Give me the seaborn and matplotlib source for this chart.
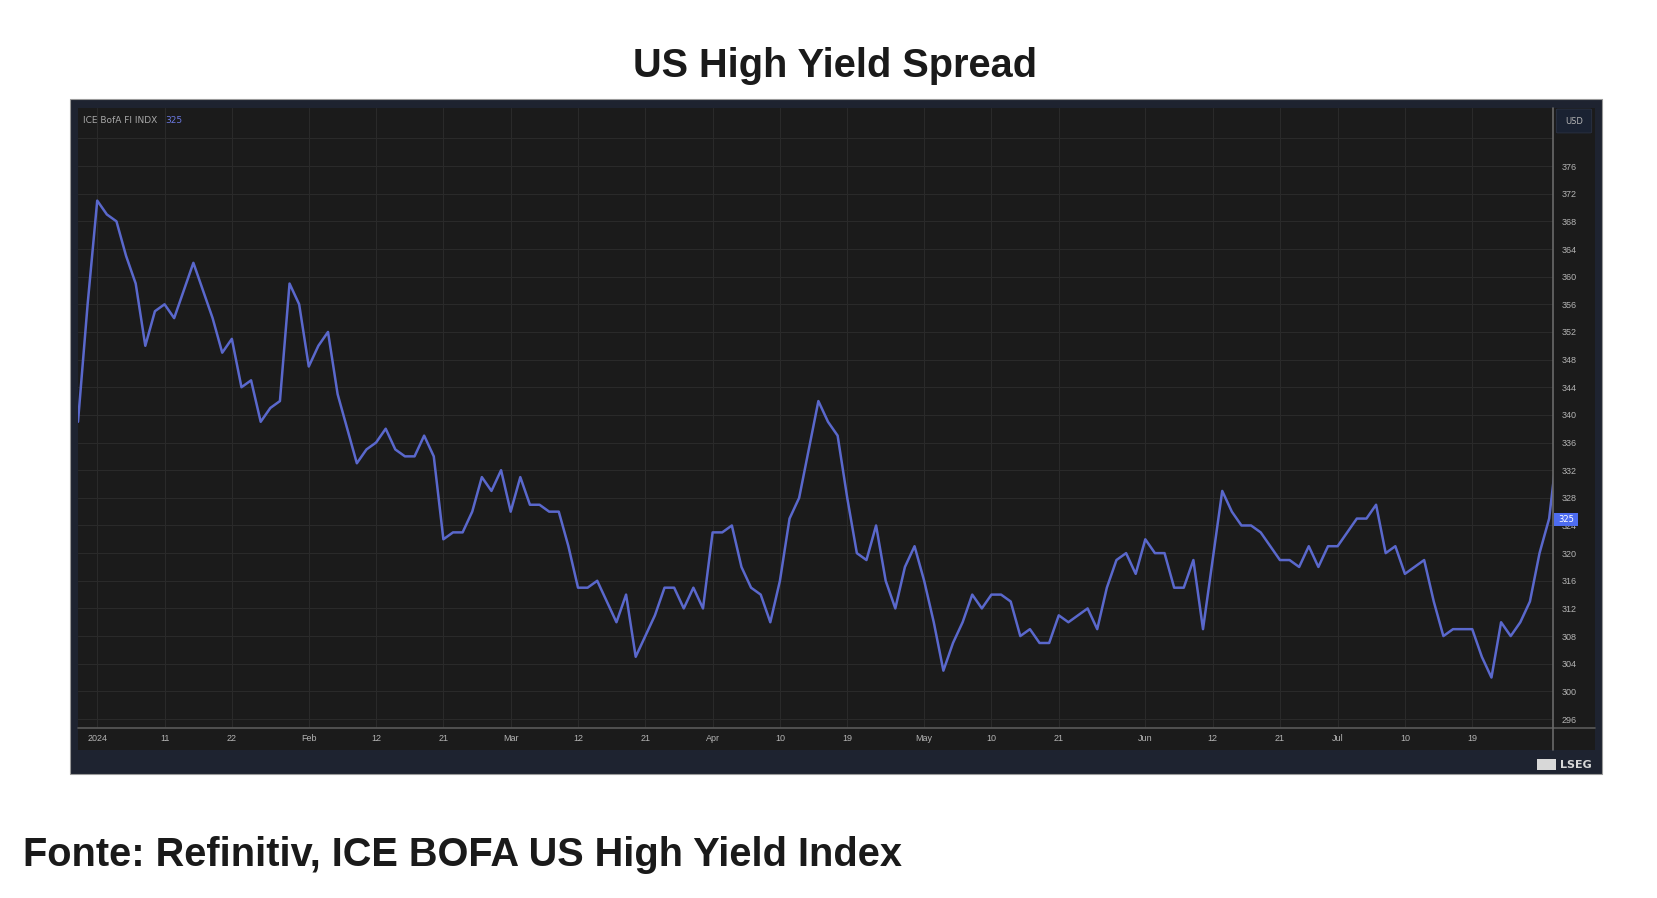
import numpy as np
import pandas as pd
import seaborn as sns
import matplotlib.pyplot as plt
from matplotlib.patches import Rectangle, FancyBboxPatch
from matplotlib.lines import Line2D

# ICE BofA US High Yield spread (bp), one value per business day from 2023-12-29
spread = [
    339, 356, 371, 369, 368, 363, 359, 350, 355, 356,
    354, 358, 362, 358, 354, 349, 351, 344, 345, 339,
    341, 342, 359, 356, 347, 350, 352, 343, 338, 333,
    335, 336, 338, 335, 334, 334, 337, 334, 322, 323,
    323, 326, 331, 329, 332, 326, 331, 327, 327, 326,
    326, 321, 315, 315, 316, 313, 310, 314, 305, 308,
    311, 315, 315, 312, 315, 312, 323, 323, 324, 318,
    315, 314, 310, 316, 325, 328, 335, 342, 339, 337,
    328, 320, 319, 324, 316, 312, 318, 321, 316, 310,
    303, 307, 310, 314, 312, 314, 314, 313, 308, 309,
    307, 307, 311, 310, 311, 312, 309, 315, 319, 320,
    317, 322, 320, 320, 315, 315, 319, 309, 319, 329,
    326, 324, 324, 323, 321, 319, 319, 318, 321, 318,
    321, 321, 323, 325, 325, 327, 320, 321, 317, 318,
    319, 313, 308, 309, 309, 309, 305, 302, 310, 308,
    310, 313, 320, 325, 337,
]
dates = pd.bdate_range("2023-12-29", periods=len(spread))

tick_dates = ["2024-01-02", "2024-01-11", "2024-01-22", "2024-02-01", "2024-02-12",
              "2024-02-21", "2024-03-01", "2024-03-12", "2024-03-21", "2024-04-01",
              "2024-04-10", "2024-04-19", "2024-05-01", "2024-05-10", "2024-05-21",
              "2024-06-03", "2024-06-12", "2024-06-21", "2024-07-01", "2024-07-10",
              "2024-07-19"]
tick_labels = ["2024", "11", "22", "Feb", "12", "21", "Mar", "12", "21", "Apr",
               "10", "19", "May", "10", "21", "Jun", "12", "21", "Jul", "10", "19"]
y_ticks = list(range(296, 377, 4))
last_value = 325

df = pd.DataFrame({"date": dates, "spread": spread})
df["pos"] = np.arange(len(df))

sns.set_theme(style="dark")
plt.rcParams["font.family"] = ["Liberation Sans", "DejaVu Sans"]

W, H = 1658, 898
fig = plt.figure(figsize=(W / 100, H / 100), dpi=100)
fig.patch.set_facecolor("white")

def fx(px):
    return px / W

def fy(py):
    return 1 - py / H

# chart panel
fig.patches.append(Rectangle((fx(70), fy(774)), fx(1602) - fx(70), fy(99) - fy(774),
                             transform=fig.transFigure, facecolor="#1e2330",
                             edgecolor="#9a9a9a", linewidth=0.8, zorder=-2))
fig.patches.append(Rectangle((fx(78), fy(750)), fx(1595) - fx(78), fy(108) - fy(750),
                             transform=fig.transFigure, facecolor="#1b1b1b",
                             edgecolor="none", zorder=-1))

ax = fig.add_axes([fx(78), fy(728), fx(1553) - fx(78), fy(108) - fy(728)])
ax.set_zorder(2)
ax.set_facecolor("#1b1b1b")
sns.lineplot(data=df, x="pos", y="spread", ax=ax, color="#5a68cc", linewidth=1.8)

ax.set_xlim(0, 153.4)
ax.set_ylim(294.7, 384.4)
ax.set_xlabel("")
ax.set_ylabel("")

pos_lookup = {d.strftime("%Y-%m-%d"): p for d, p in zip(df["date"], df["pos"])}
ax.set_xticks([pos_lookup[d] for d in tick_dates])
ax.set_xticklabels(tick_labels)
ax.yaxis.tick_right()
ax.set_yticks(list(range(296, 381, 4)))
ax.set_yticklabels([str(v) if v in y_ticks else "" for v in range(296, 381, 4)])
ax.tick_params(axis="both", length=0, labelsize=6.5, colors="#b4b4b4")
ax.tick_params(axis="x", pad=4)
ax.tick_params(axis="y", pad=6)
ax.grid(True, color="#2a2a2a", linewidth=0.8)
for s in ax.spines.values():
    s.set_visible(False)

# axis lines / crosshair
fig.add_artist(Line2D([fx(78), fx(1595)], [fy(728), fy(728)], color="#5a5a5a",
                      linewidth=1.2, zorder=3))
fig.add_artist(Line2D([fx(1553), fx(1553)], [fy(108), fy(750)], color="#6a6a6a",
                      linewidth=1.2, zorder=3))

# legend text at top left
fig.text(fx(83), fy(120), "ICE BofA FI INDX", fontsize=6.5, color="#a8a8a8", va="center",
         family="DejaVu Sans", zorder=4)
fig.text(fx(165), fy(120), str(last_value), fontsize=6.5, color="#6a78e0", va="center",
         family="DejaVu Sans", zorder=4)

# currency box
fig.patches.append(FancyBboxPatch((fx(1558), fy(132)), fx(1590) - fx(1558), fy(110) - fy(132),
                                  boxstyle="round,pad=0.001", transform=fig.transFigure,
                                  facecolor="#1a2232", edgecolor="#2a3244", linewidth=0.6,
                                  zorder=3))
fig.text(fx(1574), fy(121), "USD", fontsize=6, color="#b4b4b4", ha="center", va="center",
         family="DejaVu Sans", zorder=4)

# last value badge
fig.patches.append(Rectangle((fx(1554), fy(526)), fx(1578) - fx(1554), fy(513) - fy(526),
                             transform=fig.transFigure, facecolor="#4d6cf0", edgecolor="none",
                             zorder=5))
fig.text(fx(1566), fy(519.5), str(last_value), fontsize=6, color="white", ha="center",
         va="center", family="DejaVu Sans", zorder=6)

# LSEG mark
fig.patches.append(Rectangle((fx(1537), fy(770)), fx(1556) - fx(1537), fy(759) - fy(770),
                             transform=fig.transFigure, facecolor="#d8d8d8", edgecolor="none",
                             zorder=3))
fig.text(fx(1560), fy(765), "LSEG", fontsize=8, color="#d8d8d8", ha="left", va="center",
         fontweight="bold", family="DejaVu Sans", zorder=4)

fig.text(fx(835), fy(66), "US High Yield Spread", fontsize=28.6, fontweight="bold",
         color="#1a1a1a", ha="center", va="center")
fig.text(fx(23), fy(855), "Fonte: Refinitiv, ICE BOFA US High Yield Index", fontsize=28.6,
         fontweight="bold", color="#1a1a1a", ha="left", va="center")

fig.savefig("out.png", dpi=100, facecolor=fig.get_facecolor())
